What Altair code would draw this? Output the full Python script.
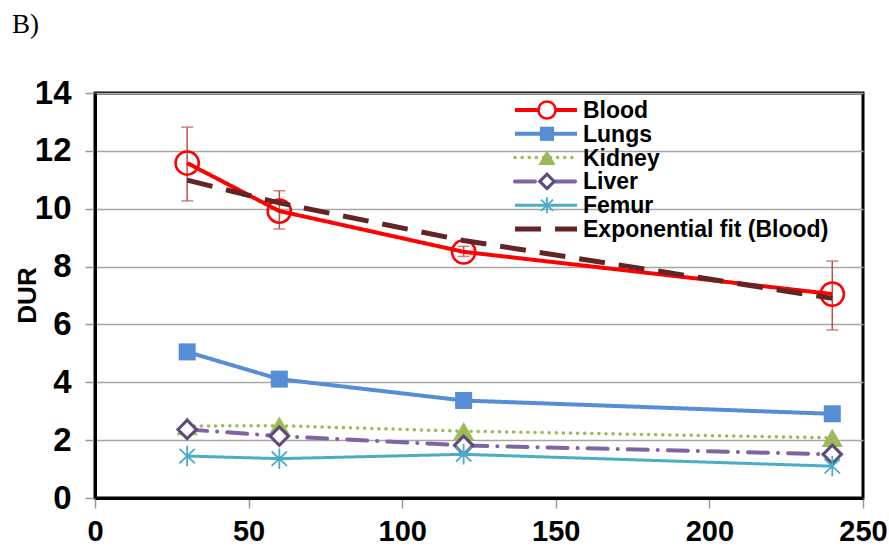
import altair as alt
import pandas as pd

# ---- data ----
time_min = [30, 60, 120, 240]
blood = [11.58, 9.92, 8.51, 7.05]
blood_lo = [10.27, 9.30, 8.35, 5.81]
blood_hi = [12.82, 10.62, 8.70, 8.19]
lungs = [5.05, 4.11, 3.37, 2.91]
kidney = [2.49, 2.50, 2.31, 2.08]
liver = [2.37, 2.14, 1.82, 1.51]
femur = [1.45, 1.36, 1.51, 1.10]
exp_fit = [10.99, 10.20, 8.90, 6.90]

series_names = ["Blood", "Lungs", "Kidney", "Liver", "Femur", "Exponential fit (Blood)"]
x_ticks = [0, 50, 100, 150, 200, 250]
y_ticks = [0, 2, 4, 6, 8, 10, 12, 14]

W, H = 768, 405
ASTERISK = "M0,-1L0,1M-0.75,-0.7L0.75,0.7M-0.75,0.7L0.75,-0.7"

styles = {
    "Blood": dict(values=blood, color="#FF0000", width=4, dash=[1, 0], cap="butt", shape="circle",
                  size=540, filled=False, mstroke="#FF0000", msw=2.5, lsize=290),
    "Lungs": dict(values=lungs, color="#558ED5", width=4, dash=[1, 0], cap="butt", shape="square",
                  size=290, filled=True, mstroke="#558ED5", msw=0, lsize=200),
    "Kidney": dict(values=kidney, color="#9BBB59", width=3.5, dash=[0.1, 7], cap="round",
                   shape="triangle-up", size=450, filled=True, mstroke="#9BBB59", msw=0, lsize=300),
    "Liver": dict(values=liver, color="#8064A2", width=4, dash=[20, 10, 0.1, 10], cap="round",
                  shape="diamond", size=340, filled=False, mstroke="#5F497A", msw=3, lsize=210),
    "Femur": dict(values=femur, color="#4BACC6", width=3, dash=[1, 0], cap="butt", shape=ASTERISK,
                  size=420, filled=False, mstroke="#4BACC6", msw=1.8, lsize=260),
    "Exponential fit (Blood)": dict(values=exp_fit, color="#632523", width=5, dash=[26, 14],
                                    cap="butt", shape=None),
}

xscale = alt.Scale(domain=[0, 250], nice=False, zero=False)
yscale = alt.Scale(domain=[0, 14], nice=False, zero=False)

x_axis = alt.Axis(values=x_ticks, grid=False, title=None, format="d",
                  labelFont="Liberation Sans", labelFontWeight="bold", labelFontSize=29,
                  labelColor="black", labelPadding=9, tickSize=10, tickColor="#999999",
                  tickWidth=1.5, domainColor="black", domainWidth=3, labelFlush=False)
y_axis = alt.Axis(values=y_ticks, grid=True, gridColor="#A6A6A6", gridWidth=1.5,
                  title=None, format="d", labelFont="Liberation Sans", labelFontWeight="bold",
                  labelFontSize=33, labelColor="black", labelPadding=14, tickSize=10,
                  tickColor="#999999", tickWidth=1.5, domainColor="black", domainWidth=3)

X = alt.X("t:Q", scale=xscale, axis=x_axis)
Y = alt.Y("v:Q", scale=yscale, axis=y_axis)

layers = []

# error bars of Blood
err = pd.DataFrame({"t": time_min, "lo": blood_lo, "hi": blood_hi})
layers.append(alt.Chart(err).mark_rule(color="#C0504D", strokeWidth=1.5).encode(
    x=X, y=alt.Y("lo:Q", scale=yscale, axis=y_axis), y2="hi:Q"))
for col in ["lo", "hi"]:
    layers.append(alt.Chart(err).mark_tick(color="#C0504D", thickness=1.5, size=12,
                                           orient="horizontal").encode(
        x=X, y=alt.Y(f"{col}:Q", scale=yscale, axis=y_axis)))

for name in series_names:
    s = styles[name]
    df = pd.DataFrame({"t": time_min, "v": s["values"], "series": name})
    layers.append(alt.Chart(df).mark_line(color=s["color"], strokeWidth=s["width"],
                                          strokeDash=s["dash"], strokeCap=s["cap"]).encode(x=X, y=Y))
    if s["shape"]:
        if name == "Liver":
            pt = alt.Chart(df).mark_point(shape="diamond", size=s["size"], filled=False,
                                          fill="white", fillOpacity=1, stroke=s["mstroke"],
                                          strokeWidth=s["msw"], opacity=1)
        else:
            pt = alt.Chart(df).mark_point(shape=s["shape"], size=s["size"], filled=s["filled"],
                                          fill=s["color"] if s["filled"] else "white",
                                          fillOpacity=1 if s["filled"] else 0,
                                          stroke=s["mstroke"], strokeWidth=s["msw"], opacity=1)
        layers.append(pt.encode(x=X, y=Y))

# ---- legend inside the plot (top right) ----
leg_x0, leg_x1, leg_xm, leg_tx = 420, 482, 452, 488
leg_y0, leg_dy = 17, 23.8
for i, name in enumerate(series_names):
    s = styles[name]
    yy = leg_y0 + i * leg_dy
    ldf = pd.DataFrame({"series": [name]})
    layers.append(alt.Chart(ldf).mark_rule(color=s["color"], strokeWidth=s["width"],
                                           strokeDash=s["dash"], strokeCap=s["cap"]).encode(
        x=alt.value(leg_x0), x2=alt.value(leg_x1), y=alt.value(yy)))
    if s["shape"]:
        layers.append(alt.Chart(ldf).mark_point(shape=s["shape"], size=s["lsize"],
                                                filled=s["filled"],
                                                fill=s["color"] if s["filled"] else "white",
                                                fillOpacity=1, stroke=s["mstroke"],
                                                strokeWidth=s["msw"], opacity=1).encode(
            x=alt.value(leg_xm), y=alt.value(yy)))
    layers.append(alt.Chart(ldf).mark_text(align="left", baseline="middle",
                                           font="Liberation Sans", fontWeight="bold",
                                           fontSize=23, color="black").encode(
        x=alt.value(leg_tx), y=alt.value(yy + 1), text="series:N"))

# axis title and panel label
lab = pd.DataFrame({"txt": ["DUR"]})
layers.append(alt.Chart(lab).mark_text(angle=270, align="center", baseline="middle",
                                       font="Liberation Sans", fontWeight="bold", fontSize=26,
                                       color="black").encode(
    x=alt.value(-67), y=alt.value(H / 2), text="txt:N"))
pl = pd.DataFrame({"txt": ["B)"]})
layers.append(alt.Chart(pl).mark_text(align="left", baseline="alphabetic",
                                      font="Liberation Serif", fontSize=27,
                                      color="black").encode(
    x=alt.value(-83), y=alt.value(-60), text="txt:N"))

chart = alt.layer(*layers).properties(
    width=W, height=H,
    padding={"left": 95, "top": 93, "right": 26, "bottom": 55},
    autosize="none",
    background="white",
).configure_view(stroke="black", strokeWidth=3)

chart.save("out.html", embed_options={"renderer": "svg", "actions": False})
